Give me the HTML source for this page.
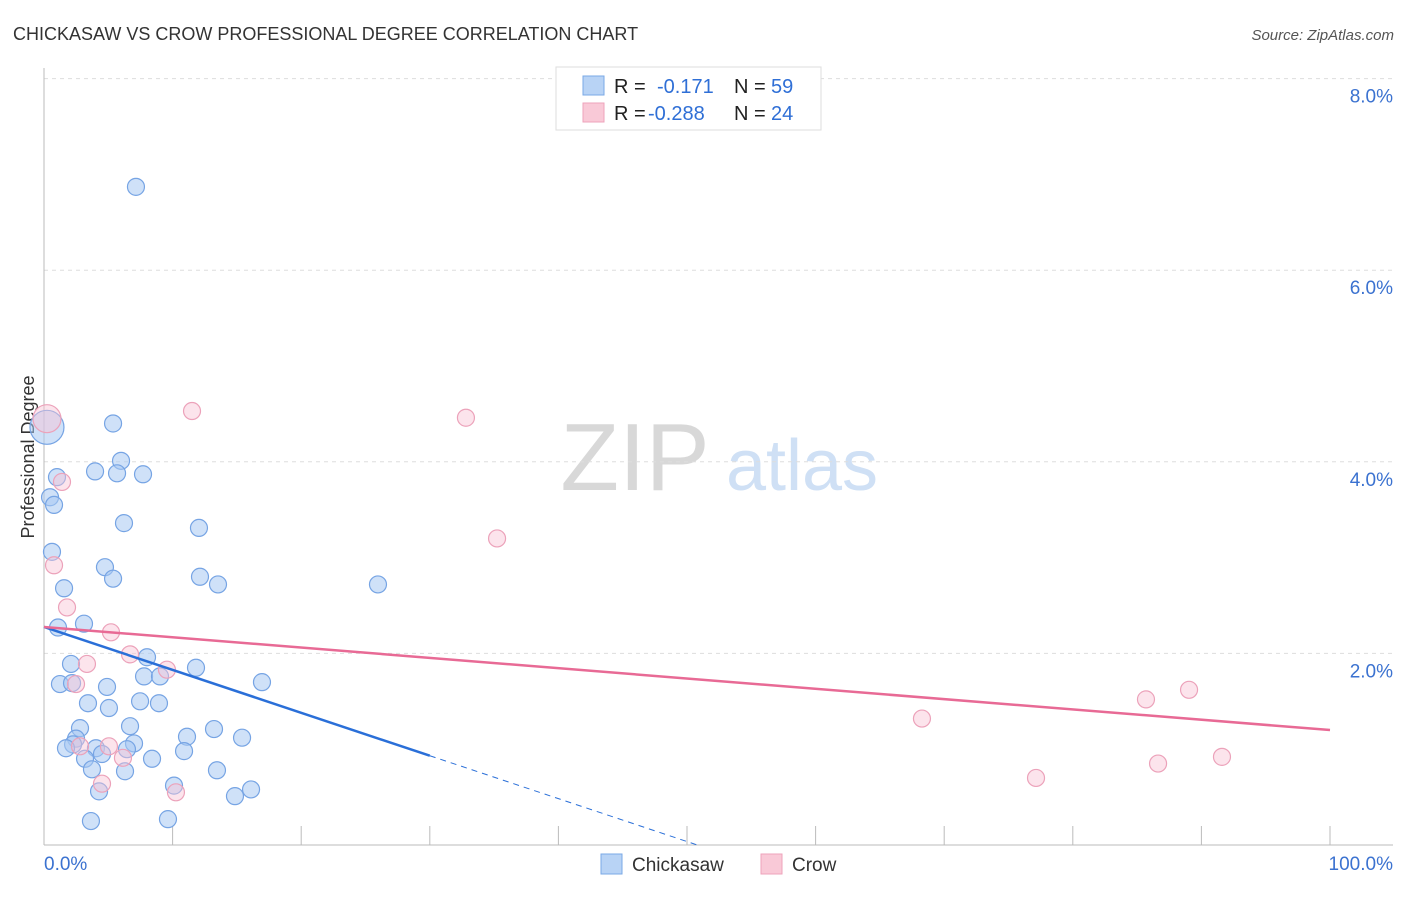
<!DOCTYPE html>
<html><head><meta charset="utf-8"><style>
body{margin:0;background:#fff;font-family:"Liberation Sans",sans-serif;overflow:hidden;}
svg text{font-family:"Liberation Sans",sans-serif;}
</style></head><body>
<svg id="chart" width="1406" height="892" viewBox="0 0 1406 892">
<text x="13" y="40" font-size="18" fill="#333">CHICKASAW VS CROW PROFESSIONAL DEGREE CORRELATION CHART</text>
<text x="1394" y="40" font-size="15" fill="#555" font-style="italic" text-anchor="end">Source: ZipAtlas.com</text>
<text x="34" y="457" font-size="18" fill="#333" text-anchor="middle" transform="rotate(-90 34 457)">Professional Degree</text>
<g>
<text x="635" y="490" font-size="96" fill="#d8d8d8" font-family="Liberation Serif" text-anchor="middle">ZIP</text>
<text x="802" y="490" font-size="72" fill="#cfe0f5" text-anchor="middle">atlas</text>
</g>
<g id="grid"></g>
<g id="axes"></g>
<g id="marks"></g>
<g>
<rect x="556" y="67" width="265" height="63" fill="#fff" stroke="#ddd"/>
<rect x="583" y="76" width="21" height="19" fill="#b8d3f5" stroke="#7aa8e6"/>
<rect x="583" y="103" width="21" height="19" fill="#f9c9d7" stroke="#eea3bb"/>
<text x="614" y="93" font-size="20" fill="#222">R = </text><text x="657" y="93" font-size="20" fill="#2f6fd6">-0.171</text>
<text x="734" y="93" font-size="20" fill="#222">N = </text><text x="771" y="93" font-size="20" fill="#2f6fd6">59</text>
<text x="614" y="120" font-size="20" fill="#222">R = </text><text x="648" y="120" font-size="20" fill="#2f6fd6">-0.288</text>
<text x="734" y="120" font-size="20" fill="#222">N = </text><text x="771" y="120" font-size="20" fill="#2f6fd6">24</text>
</g>
<g>
<rect x="601" y="854" width="21" height="20" fill="#b8d3f5" stroke="#7aa8e6"/>
<text x="632" y="871" font-size="19" fill="#333">Chickasaw</text>
<rect x="761" y="854" width="21" height="20" fill="#f9c9d7" stroke="#eea3bb"/>
<text x="792" y="871" font-size="19" fill="#333">Crow</text>
</g>
</svg>
<script>
const yTicks=[2,4,6,8];
const yTickLabels=["2.0%","4.0%","6.0%","8.0%"];
const xTicks=[0,10,20,30,40,50,60,70,80,90,100];
const chickX=[7.15,5.37,0.23,5.99,3.97,5.68,7.70,1.01,0.47,0.78,6.22,12.05,0.62,4.74,5.37,12.13,13.53,25.97,1.56,3.11,1.09,8.01,2.10,11.82,7.78,9.02,1.24,2.18,16.95,4.90,3.42,7.47,8.94,5.05,2.80,6.69,13.22,2.49,11.12,15.40,2.26,1.71,4.04,7.00,4.51,6.45,10.89,3.19,8.40,3.73,6.30,13.45,10.11,16.10,4.28,14.85,3.65,9.64];
const chickY=[6.87,4.40,4.36,4.01,3.90,3.88,3.87,3.84,3.63,3.55,3.36,3.31,3.06,2.90,2.78,2.80,2.72,2.72,2.68,2.31,2.27,1.96,1.89,1.85,1.76,1.76,1.68,1.69,1.70,1.65,1.48,1.50,1.48,1.43,1.22,1.24,1.21,1.11,1.13,1.12,1.05,1.01,1.01,1.06,0.95,1.00,0.98,0.90,0.90,0.79,0.77,0.78,0.62,0.58,0.56,0.51,0.25,0.27];
const crowX=[0.23,11.51,32.81,1.40,0.78,1.79,35.23,5.21,6.69,3.34,9.56,2.49,5.05,2.80,6.14,4.51,10.26,68.27,77.14,85.69,89.04,86.63,91.60];
const crowY=[4.45,4.53,4.46,3.79,2.92,2.48,3.20,2.22,1.99,1.89,1.83,1.68,1.03,1.03,0.91,0.64,0.55,1.32,0.70,1.52,1.62,0.85,0.92];
const chickTrend=[2.276,-0.0448];
const crowTrend=[2.276,-0.01076];
const X=v=>44+v*12.86, Y=v=>845-v*95.8;
const NS="http://www.w3.org/2000/svg";
function mk(tag,attrs,parent){const e=document.createElementNS(NS,tag);for(const k in attrs)e.setAttribute(k,attrs[k]);document.getElementById(parent).appendChild(e);return e;}
yTicks.forEach((t,i)=>{
 const l=mk('line',{x1:44,x2:1392,y1:Y(t),y2:Y(t),stroke:'#ddd','stroke-dasharray':'4,4'},'grid');
 
 
 const tx=mk('text',{x:1393,y:Y(t)+24,'font-size':19,fill:'#3b72d0','text-anchor':'end'},'axes');
 tx.textContent=yTickLabels[i];
 
 
});
const ax=mk('line',{x1:44,x2:44,y1:68,y2:845,stroke:'#bbb'},'axes');


const bx=mk('line',{x1:44,x2:1393,y1:845,y2:845,stroke:'#bbb'},'axes');


xTicks.forEach(t=>{if(t===0)return;
 const l=mk('line',{x1:X(t),x2:X(t),y1:826,y2:845,stroke:'#bbb'},'axes');
 
 
});
const x0=mk('text',{x:44,y:870,'font-size':19,fill:'#3b72d0'},'axes');x0.textContent='0.0%';


const x1=mk('text',{x:1393,y:870,'font-size':19,fill:'#3b72d0','text-anchor':'end'},'axes');x1.textContent='100.0%';


chickX.forEach((v,i)=>{
 const c=mk('circle',{cx:X(v),cy:Y(chickY[i]),r:i===2?17:8.5,fill:'rgba(168,200,242,0.55)',stroke:'#76a4e4','stroke-width':1.2},'marks');
 
 
});
crowX.forEach((v,i)=>{
 const c=mk('circle',{cx:X(v),cy:Y(crowY[i]),r:i===0?14:8.5,fill:'rgba(248,195,212,0.45)',stroke:'#eca2ba','stroke-width':1.2},'marks');
 
 
});
const cf=x=>chickTrend[0]+chickTrend[1]*x, rf=x=>crowTrend[0]+crowTrend[1]*x;
const bl=mk('line',{x1:X(0),y1:Y(cf(0)),x2:X(30),y2:Y(cf(30)),stroke:'#2a6fd8','stroke-width':2.5},'marks');


const xz=-chickTrend[0]/chickTrend[1];
const bd=mk('line',{x1:X(30),y1:Y(cf(30)),x2:X(xz),y2:Y(0),stroke:'#2a6fd8','stroke-width':1,'stroke-dasharray':'6,5'},'marks');


const pl=mk('line',{x1:X(0),y1:Y(rf(0)),x2:X(100),y2:Y(rf(100)),stroke:'#e86a95','stroke-width':2.5},'marks');


</script>
</body></html>
